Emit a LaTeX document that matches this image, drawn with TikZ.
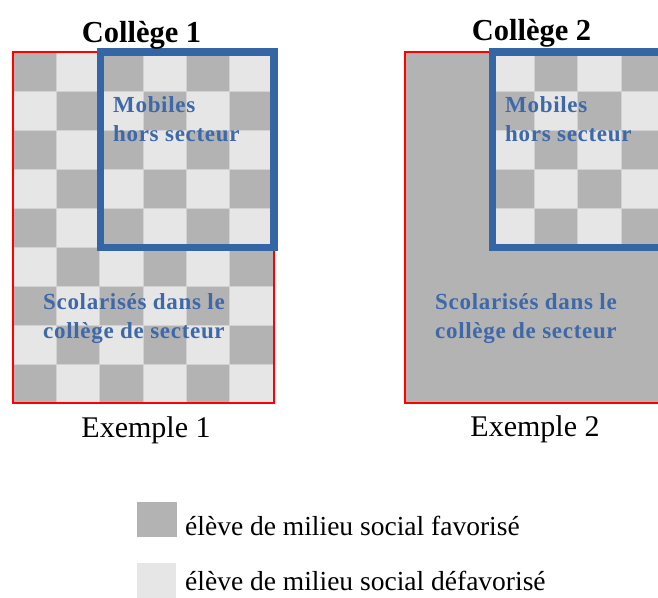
\documentclass[tikz,border=0pt]{standalone}
\usepackage{fontspec}
\setmainfont{Liberation Serif}
\newfontfamily\spacedserif[LetterSpace=3]{Liberation Serif}
\definecolor{darkcell}{RGB}{179,179,179}
\definecolor{lightcell}{RGB}{230,230,230}
\definecolor{gridline}{RGB}{210,210,210}
\definecolor{boxblue}{RGB}{52,101,164}
\definecolor{textblue}{RGB}{62,104,168}
\definecolor{boxred}{RGB}{255,0,0}
\begin{document}
\begin{tikzpicture}[x=1pt,y=-1pt,
  cell/.style={line width=0.6pt, draw=gridline},
  redframe/.style={draw=boxred, line width=2.2pt},
  blueframe/.style={draw=boxblue, line width=7.5pt},
  bluetext/.style={anchor=base west, inner sep=0pt, text=textblue, font=\spacedserif\bfseries\fontsize{23}{28}\selectfont},
  titletext/.style={anchor=base, inner sep=0pt, font=\bfseries\fontsize{30.5}{34}\selectfont},
  exampletext/.style={anchor=base, inner sep=0pt, font=\fontsize{30}{36}\selectfont},
  legendtext/.style={anchor=base west, inner sep=0pt, font=\fontsize{27.5}{33}\selectfont}]
\useasboundingbox (0,0) rectangle (658,597);
\clip (0,0) rectangle (658,597);
\fill[white] (0,0) rectangle (658,597);
% ---- Example 1 checkerboard
\foreach \r in {0,...,8}{\foreach \c in {0,...,5}{
  \pgfmathtruncatemacro{\pp}{mod(\r+\c,2)}
  \ifnum\pp=0 \def\cc{darkcell}\else\def\cc{lightcell}\fi
  \filldraw[cell, fill=\cc] (13+\c*43.33, 52+\r*39) rectangle ++(43.33,39);
}}
\draw[redframe] (13,52) rectangle (274,403);
\draw[blueframe] (100.5,52) rectangle (274,247.5);
% ---- Example 2
\fill[darkcell] (405,52) rectangle (668,403);
\foreach \r in {0,...,4}{\foreach \c in {0,...,3}{
  \pgfmathtruncatemacro{\pp}{mod(\r+\c,2)}
  \ifnum\pp=0 \def\cc{lightcell}\else\def\cc{darkcell}\fi
  \filldraw[cell, fill=\cc] (491+\c*43.33, 52+\r*39) rectangle ++(43.33,39);
}}
\draw[redframe] (405,52) rectangle (668,403);
\draw[blueframe] (492.5,52) rectangle (666,247.5);
% ---- texts
\node[titletext] (t1) at (141.5,42) {Collège 1};
\node[titletext] (t2) at (531.5,40) {Collège 2};
\node[bluetext] (m1a) at (113,112) {Mobiles};
\node[bluetext] (m1b) at (113,141) {hors secteur};
\node[bluetext] (s1a) at (43,309) {Scolarisés dans le};
\node[bluetext] (s1b) at (43,338) {collège de secteur};
\node[bluetext] (m2a) at (505,112) {Mobiles};
\node[bluetext] (m2b) at (505,141) {hors secteur};
\node[bluetext] (s2a) at (435,309) {Scolarisés dans le};
\node[bluetext] (s2b) at (435,338) {collège de secteur};
\node[exampletext] (e1) at (146,437) {Exemple 1};
\node[exampletext] (e2) at (535,436) {Exemple 2};
% ---- legend
\fill[darkcell] (137,502) rectangle (177,537);
\fill[lightcell] (137,563) rectangle (176,598);
\node[legendtext] (l1) at (185,535) {élève de milieu social favorisé};
\node[legendtext] (l2) at (185,590) {élève de milieu social défavorisé};
\end{tikzpicture}
\end{document}
